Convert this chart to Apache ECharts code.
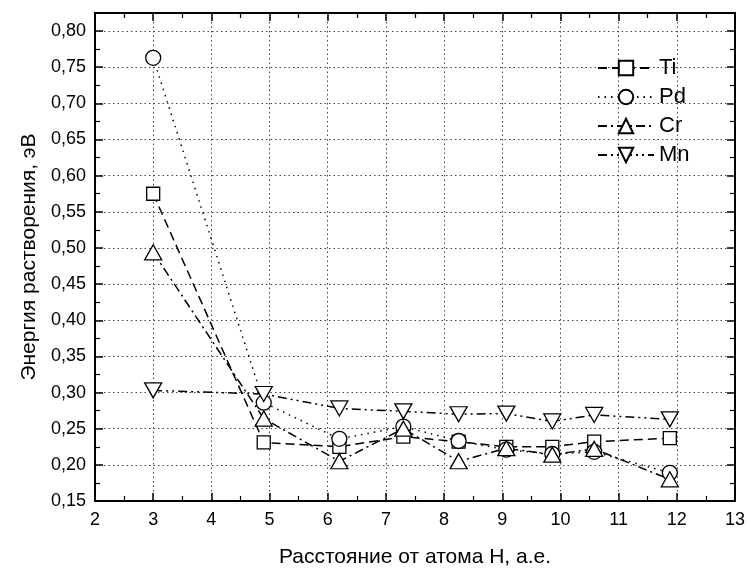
<!DOCTYPE html>
<html>
<head>
<meta charset="utf-8">
<script src="https://cdn.jsdelivr.net/npm/echarts@6/dist/echarts.min.js"></script>
<style>html,body{margin:0;padding:0;background:#fff}#c{width:748px;height:573px}</style>
</head>
<body>
<div id="c"></div>
<script>
const distances = [3, 4.9, 6.2, 7.3, 8.25, 9.07, 9.86, 10.58, 11.88];
const tiValues = [0.575, 0.231, 0.225, 0.239, 0.232, 0.225, 0.225, 0.232, 0.237];
const pdValues = [0.763, 0.286, 0.236, 0.253, 0.233, 0.221, 0.215, 0.218, 0.189];
const crValues = [0.494, 0.264, 0.205, 0.250, 0.205, 0.223, 0.214, 0.222, 0.180];
const mnValues = [0.303, 0.298, 0.278, 0.274, 0.270, 0.271, 0.260, 0.269, 0.263];
const seriesNames = ['Ti', 'Pd', 'Cr', 'Mn'];
const xAxisTitle = 'Расстояние от атома Н, а.е.';
const yAxisTitle = 'Энергия растворения, эВ';

const FONT = 'Liberation Sans, Arial, sans-serif';
const pairs = v => distances.map((x, i) => [x, v[i]]);

function mk(name, vals, symbol, size, dash) {
  return {
    name: name, type: 'line', data: pairs(vals),
    symbol: symbol, symbolSize: size,
    lineStyle: { color: '#000', width: 1.5, type: dash },
    itemStyle: { color: '#fff', borderColor: '#000', borderWidth: 1.3 },
    emphasis: { disabled: true },
    z: 3
  };
}

const chart = echarts.init(document.getElementById('c'), null, { renderer: 'canvas' });
const axisCommon = {
  axisLine: { show: true, lineStyle: { color: '#000', width: 2 } },
  axisTick: { show: true, inside: true, length: 8, lineStyle: { color: '#000', width: 1.5 } },
  minorTick: { show: true, splitNumber: 2, length: 5, lineStyle: { color: '#000', width: 1.2 } }
};
chart.setOption({
  animation: false,
  backgroundColor: '#fff',
  grid: { left: 95, right: 11, top: 13, bottom: 68 },
  legend: {
    orient: 'vertical', left: 592, top: 52,
    itemWidth: 56, itemHeight: 18, itemGap: 7,
    textStyle: { fontFamily: FONT, fontSize: 22, color: '#000' },
    data: seriesNames
  },
  xAxis: [
    Object.assign({
      type: 'value', min: 2, max: 13, interval: 1, position: 'bottom',
      name: xAxisTitle, nameLocation: 'middle', nameGap: 46,
      nameTextStyle: { fontFamily: FONT, fontSize: 21, color: '#000' },
      axisLabel: { fontFamily: FONT, fontSize: 18, color: '#000', margin: 10 },
      splitLine: { show: true, lineStyle: { color: '#444', type: [1.5, 3], width: 1 } }
    }, axisCommon),
    Object.assign({
      type: 'value', min: 2, max: 13, interval: 1, position: 'top',
      axisLabel: { show: false }, splitLine: { show: false }
    }, axisCommon)
  ],
  yAxis: [
    Object.assign({
      type: 'value', min: 0.15, max: 0.825, interval: 0.05, position: 'left',
      name: yAxisTitle, nameLocation: 'middle', nameGap: 52,
      nameTextStyle: { fontFamily: FONT, fontSize: 21, color: '#000' },
      axisLabel: { fontFamily: FONT, fontSize: 18, color: '#000', margin: 9, showMaxLabel: false,
        formatter: v => v.toFixed(2).replace('.', ',') },
      splitLine: { show: true, lineStyle: { color: '#444', type: [1.5, 3], width: 1 } }
    }, axisCommon),
    Object.assign({
      type: 'value', min: 0.15, max: 0.825, interval: 0.05, position: 'right',
      axisLabel: { show: false }, splitLine: { show: false }
    }, axisCommon)
  ],
  series: [
    mk('Ti', tiValues, 'rect', 13, [9, 5]),
    mk('Pd', pdValues, 'circle', 15, [1.5, 5]),
    mk('Cr', crValues, 'triangle', [17, 15], [9, 4, 2, 4]),
    mk('Mn', mnValues, 'path://M0,0L10,0L5,9Z', [17, 15], [9, 4, 2, 4, 2, 4])
  ]
});
</script>
</body>
</html>
